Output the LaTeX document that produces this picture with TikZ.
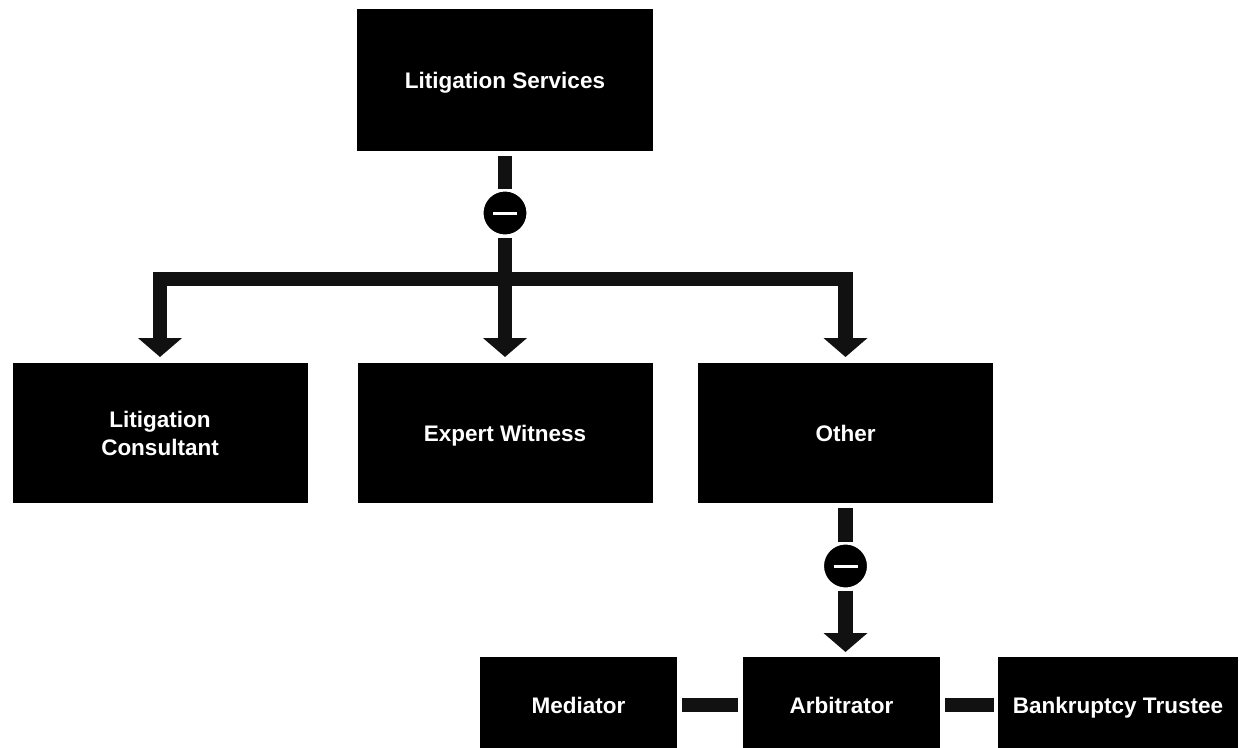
\documentclass[tikz,border=0pt]{standalone}
\usepackage{fontspec}
\setmainfont{Liberation Sans}
\usetikzlibrary{arrows.meta}
\definecolor{linkgray}{HTML}{111111}
\begin{document}
\begin{tikzpicture}[x=1pt,y=-1pt,
  box/.style={fill=black, text=white, inner sep=0pt, outer sep=0pt,
    align=center, text height=22pt, text depth=4.5pt,
    font=\bfseries\fontsize{22.5}{28}\selectfont},
  twoline/.style={text height=, text depth=},
  rowbox/.style={box, minimum width=295pt, minimum height=140pt},
  lowbox/.style={box, minimum width=197pt, minimum height=96pt},
  junction/.style={circle, fill=black, draw=white, line width=3pt,
    minimum size=46pt, inner sep=0pt,
    path picture={\draw[white, line width=3pt]
      ([xshift=-12pt]path picture bounding box.center) --
      ([xshift=12pt]path picture bounding box.center);}},
  link/.style={draw=linkgray, line width=14.5pt, line join=miter},
  arrowlink/.style={link, -{Triangle[width=43pt,length=19pt]},
    shorten >=6pt}
]
\useasboundingbox (0,0) rectangle (1239,747);

% boxes
\node[box, minimum width=296pt, minimum height=142pt] (top) at (505,80) {Litigation Services};
\node[rowbox, twoline] (lc)  at (160,433)   {Litigation\\Consultant};
\node[rowbox] (ew)  at (505,433)   {Expert Witness};
\node[rowbox] (oth) at (845.5,433) {Other};
\node[lowbox] (med) at (578.5,705) {Mediator};
\node[lowbox] (arb) at (841.5,705) {Arbitrator};
\node[box, minimum width=240pt, minimum height=96pt] (bt) at (1118,705) {Bankruptcy Trustee};

% junction markers
\node[junction] (c1) at (505,213) {};
\node[junction] (c2) at (845.5,566) {};
\coordinate (j1) at (505,279);

% upper tree
\draw[link, shorten <=5pt] (top) -- (c1);
\draw[link] (c1) -- (j1);
\draw[arrowlink] (j1) -| (lc.north);
\draw[arrowlink] (j1) -- (ew.north);
\draw[arrowlink] (j1) -| (oth.north);

% lower branch
\draw[link, shorten <=5pt] (oth) -- (c2);
\draw[arrowlink, shorten >=5pt] (c2) -- (c2 |- arb.north);
\draw[link, shorten <=5pt, shorten >=5pt] (med) -- (arb);
\draw[link, shorten <=5pt, shorten >=4pt] (arb) -- (bt);
\end{tikzpicture}
\end{document}
